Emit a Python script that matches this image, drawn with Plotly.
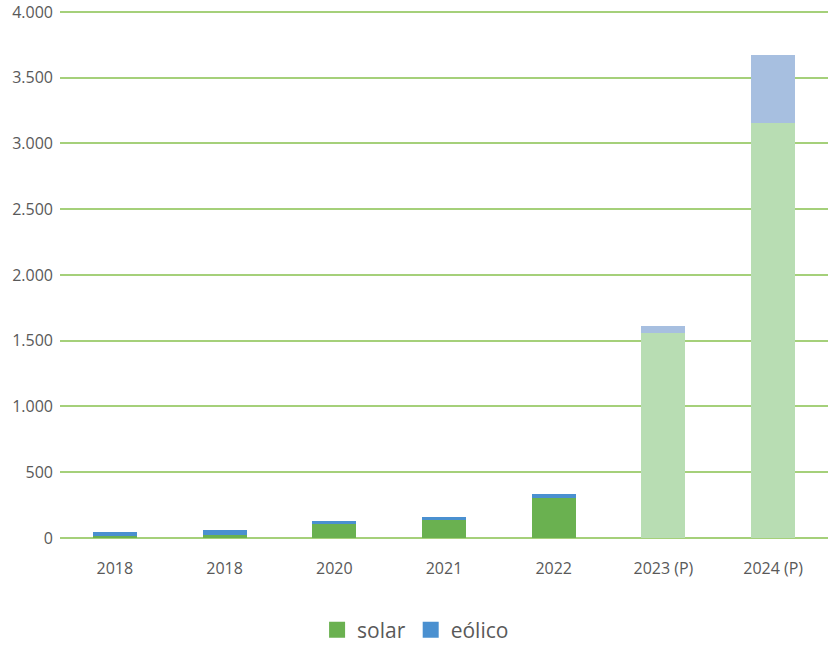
import plotly.graph_objects as go

categories = ["2018", "2018", "2020", "2021", "2022", "2023 (P)", "2024 (P)"]
solar = [15, 25, 106, 139, 305, 1558, 3155]
eolico = [30, 33, 20, 17, 31, 56, 521]
projected = [False, False, False, False, False, True, True]

solar_dark, solar_light = "#6ab150", "#b8ddb3"
eolico_dark, eolico_light = "#4a90d0", "#a7bfe0"

x = list(range(len(categories)))
fig = go.Figure()
fig.add_trace(go.Bar(
    x=x, y=solar, name="solar", showlegend=False,
    marker=dict(color=[solar_light if p else solar_dark for p in projected], line=dict(width=0)),
))
fig.add_trace(go.Bar(
    x=x, y=eolico, name="eólico", showlegend=False,
    marker=dict(color=[eolico_light if p else eolico_dark for p in projected], line=dict(width=0)),
))
# legend-only entries with larger square swatches
for name, col in [("solar", solar_dark), ("eólico", eolico_dark)]:
    fig.add_trace(go.Scatter(x=[None], y=[None], mode="markers", name=name,
                             marker=dict(symbol="square", size=18, color=col)))

fig.update_layout(
    barmode="stack",
    bargap=0.6,
    width=829, height=645,
    margin=dict(l=60, r=1, t=8, b=107, autoexpand=False),
    plot_bgcolor="white", paper_bgcolor="white",
    separators=",.",
    font=dict(family="Open Sans", color="#595959", size=16),
    showlegend=True,
    legend=dict(orientation="h", x=0.463, xanchor="center", y=-0.174, yanchor="middle",
                font=dict(size=21, color="#595959"), traceorder="normal", itemwidth=30),
    xaxis=dict(tickmode="array", tickvals=x, ticktext=categories, range=[-0.5, len(x) - 0.5],
               showgrid=False, zeroline=False, showline=False, ticks="", ticklabelstandoff=19,
               automargin=False),
    yaxis=dict(range=[0, 4030], tickmode="array", tickvals=list(range(0, 4001, 500)),
               tickformat=",d", showgrid=True, ticklabeloverflow="allow",
               gridcolor="#a5d07a", gridwidth=2, zeroline=True, zerolinecolor="#a5d07a",
               zerolinewidth=2, showline=False, ticks="", ticklabelstandoff=6,
               tickfont=dict(size=16), automargin=False),
)

post = ("document.body.style.margin='0';document.body.style.padding='0';"
        "document.body.style.overflow='hidden';"
        "var gd=document.getElementById('{plot_id}');"
        "Plotly.relayout(gd,{width:829,height:645});")
fig.write_html("out.html", config={"responsive": False, "displayModeBar": False}, post_script=post)
